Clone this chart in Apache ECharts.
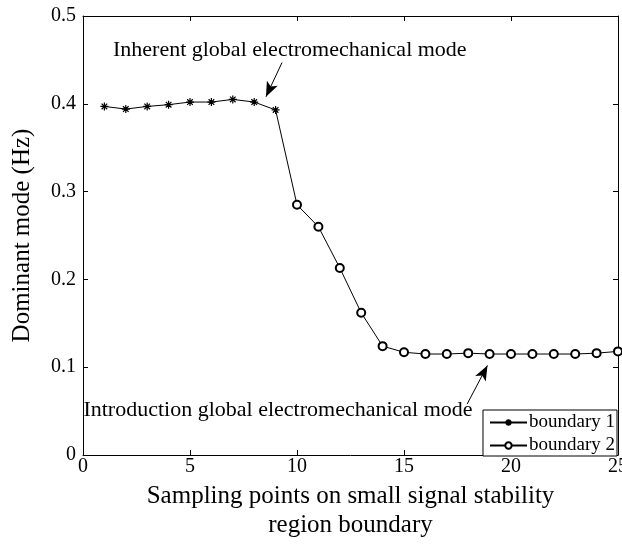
<!DOCTYPE html>
<html>
<head>
    <meta charset="UTF-8">
    <title>Dominant mode</title>
    <script src="https://cdn.jsdelivr.net/npm/echarts@6/dist/echarts.min.js"></script>
    <style>
        html, body { margin: 0; padding: 0; background: #fff; }
        #main { width: 622px; height: 545px; }
    </style>
</head>
<body>
<div id="main"></div>
<script type="text/javascript">
    // sampling points and dominant mode values (Hz)
    var b1X = [1, 2, 3, 4, 5, 6, 7, 8, 9];
    var b1Y = [0.397, 0.394, 0.397, 0.399, 0.402, 0.402, 0.405, 0.402, 0.393];
    var b2X = [10, 11, 12, 13, 14, 15, 16, 17, 18, 19, 20, 21, 22, 23, 24, 25];
    var b2Y = [0.285, 0.260, 0.213, 0.162, 0.124, 0.117, 0.115, 0.115, 0.116, 0.115, 0.115, 0.115, 0.115, 0.115, 0.116, 0.118];
    var xTicks = [0, 5, 10, 15, 20, 25];
    var yTicks = [0, 0.1, 0.2, 0.3, 0.4, 0.5];

    var font = '"Liberation Serif", "Times New Roman", serif';
    var star = 'path://M0,5L10,5M5,0L5,10M1.5,1.5L8.5,8.5M1.5,8.5L8.5,1.5';

    var d1 = b1X.map(function (x, i) { return [x, b1Y[i]]; });
    // boundary 2 joins on from the last point of boundary 1
    var d2 = [{ value: [b1X[b1X.length - 1], b1Y[b1Y.length - 1]], symbol: 'none' }]
        .concat(b2X.map(function (x, i) { return [x, b2Y[i]]; }));

    var axisCommon = {
        type: 'value',
        axisLine: { show: true, onZero: false, lineStyle: { color: '#000', width: 1 } },
        axisTick: { show: true, inside: true, length: 5, lineStyle: { color: '#000' } },
        splitLine: { show: false }
    };

    var myChart = echarts.init(document.getElementById('main'));
    var option = {
        animation: false,
        backgroundColor: '#fff',
        grid: { left: 83, right: 4, top: 16, bottom: 90, outerBoundsMode: 'none', containLabel: false },
        xAxis: [
            Object.assign({}, axisCommon, {
                min: xTicks[0], max: xTicks[xTicks.length - 1], interval: 5,
                position: 'bottom',
                axisLabel: { color: '#000', fontFamily: font, fontSize: 20, margin: 2 },
                name: 'Sampling points on small signal stability\nregion boundary',
                nameLocation: 'middle', nameGap: 24,
                nameTextStyle: { color: '#000', fontFamily: font, fontSize: 25, lineHeight: 29, verticalAlign: 'top' }
            }),
            Object.assign({}, axisCommon, {
                min: xTicks[0], max: xTicks[xTicks.length - 1], interval: 5,
                position: 'top', axisLabel: { show: false }
            })
        ],
        yAxis: [
            Object.assign({}, axisCommon, {
                min: yTicks[0], max: yTicks[yTicks.length - 1], interval: 0.1,
                position: 'left',
                axisLabel: { color: '#000', fontFamily: font, fontSize: 20, margin: 7 },
                name: 'Dominant mode (Hz)',
                nameLocation: 'middle', nameGap: 48,
                nameTextStyle: { color: '#000', fontFamily: font, fontSize: 25 }
            }),
            Object.assign({}, axisCommon, {
                min: yTicks[0], max: yTicks[yTicks.length - 1], interval: 0.1,
                position: 'right', axisLabel: { show: false }
            })
        ],
        legend: {
            orient: 'vertical',
            right: 5,
            bottom: 89,
            backgroundColor: '#fff',
            borderColor: '#000',
            borderWidth: 1,
            borderRadius: 0,
            padding: [3, 2, 1, 6],
            itemWidth: 37,
            itemHeight: 8,
            itemGap: 4,
            textStyle: { color: '#000', fontFamily: font, fontSize: 19, padding: [0, 0, 0, -3] },
            data: ['boundary 1', 'boundary 2']
        },
        series: [
            {
                name: 'boundary 1',
                type: 'line',
                data: d1,
                symbol: star,
                symbolSize: 8,
                lineStyle: { color: '#000', width: 1 },
                itemStyle: { color: '#000', borderColor: '#000', borderWidth: 1.2 },
                z: 3,
                markLine: {
                    silent: true,
                    symbol: ['none', 'arrow'],
                    symbolSize: [9, 15],
                    lineStyle: { color: '#000', width: 1, type: 'solid' },
                    label: { show: false },
                    data: [
                        [{ coord: [9.3, 0.447] }, { coord: [8.55, 0.408] }],
                        [{ coord: [17.95, 0.058] }, { coord: [18.9, 0.102] }]
                    ]
                }
            },
            {
                name: 'boundary 2',
                type: 'line',
                data: d2,
                symbol: 'emptyCircle',
                symbolSize: 8,
                lineStyle: { color: '#000', width: 1 },
                itemStyle: { color: '#000', borderColor: '#000', borderWidth: 0.9 },
                z: 3
            }
        ]
    };
    myChart.setOption(option);

    // annotation text, placed from data coordinates
    var p1 = myChart.convertToPixel({ xAxisIndex: 0, yAxisIndex: 0 }, [1.4, 0.461]);
    var p2 = myChart.convertToPixel({ xAxisIndex: 0, yAxisIndex: 0 }, [0.02, 0.051]);
    myChart.setOption({
        graphic: [
            {
                type: 'text', x: p1[0], y: p1[1], z: 10,
                style: { text: 'Inherent global electromechanical mode', fill: '#000', font: '22px ' + font, textVerticalAlign: 'middle' }
            },
            {
                type: 'text', x: p2[0], y: p2[1], z: 10,
                style: { text: 'Introduction global electromechanical mode', fill: '#000', font: '22px ' + font, textVerticalAlign: 'middle' }
            }
        ]
    });
</script>
</body>
</html>
